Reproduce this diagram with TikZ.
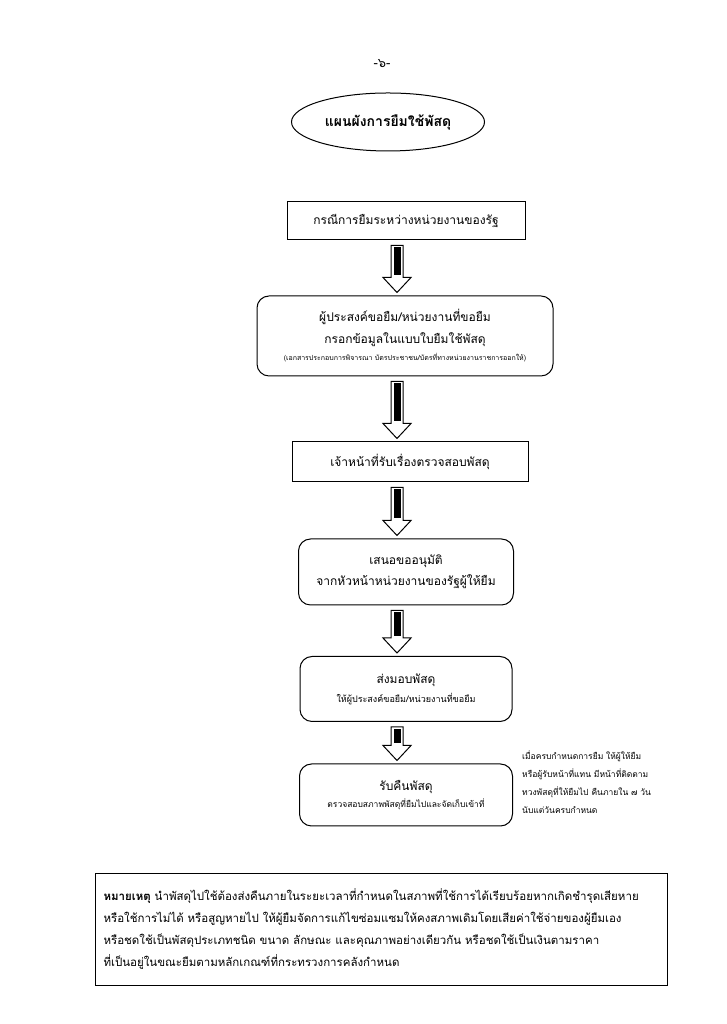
\documentclass[tikz,border=0pt]{standalone}
\usepackage{fontspec}
\setmainfont[Script=Thai]{Loma}
\usetikzlibrary{shapes.geometric,calc}
\AtBeginDocument{\lineskiplimit=-100pt}

\begin{document}
\begin{tikzpicture}[
  x=1pt, y=1pt,
  stepbox/.style={draw, line width=1pt, align=center, inner sep=0pt,
    font=\fontsize{12}{21}\selectfont},
  roundbox/.style={stepbox, rounded corners=12pt},
  arrowout/.style={draw, fill=white, line width=1pt, line join=miter}]

\useasboundingbox (0,0) rectangle (726,1024);
\fill[white] (0,0) rectangle (726,1024);

% the block arrows all sit on one column
\coordinate (col) at (397,0);
\newcommand{\flowarrow}[2]{%
  \path (#1.south -| col) ++(0,-5) coordinate (ftop)
        (#2.north -| col) ++(0,3) coordinate (ftip);
  \draw[arrowout] let \p1=(ftop), \p2=(ftip) in
    (\x1-6pt,\y1) -- (\x1+6pt,\y1) -- (\x1+6pt,\y2+15pt) -- (\x1+14pt,\y2+15pt)
    -- (\x1,\y2) -- (\x1-14pt,\y2+15pt) -- (\x1-6pt,\y2+15pt) -- cycle;
  \fill let \p1=(ftop), \p2=(ftip) in
    (\x1-3.5pt,\y1-2pt) rectangle (\x1+3.5pt,\y2+17pt);}

% ---- heading ------------------------------------------------------------
\node[font=\fontsize{13}{15}\selectfont] (pageno) at (382,960) {-๖-};
\node[ellipse, draw, line width=1pt, minimum width=193, minimum height=58,
  font=\fontsize{14}{16}\selectfont\bfseries] (title) at (388,902)
  {แผนผังการยืมใช้พัสดุ};

% ---- the flow -----------------------------------------------------------
\node[stepbox, minimum width=238, minimum height=38] (case) at (406,803)
  {กรณีการยืมระหว่างหน่วยงานของรัฐ};
\node[roundbox, minimum width=296, minimum height=80] (request) at (405,688)
  {ผู้ประสงค์ขอยืม/หน่วยงานที่ขอยืม\\[1pt]
   กรอกข้อมูลในแบบใบยืมใช้พัสดุ\\[-4pt]
   {\fontsize{7}{9}\selectfont (เอกสารประกอบการพิจารณา บัตรประชาชน/บัตรที่ทางหน่วยงานราชการออกให้)}};
\node[stepbox, minimum width=236, minimum height=40] (check) at (410,562)
  {เจ้าหน้าที่รับเรื่องตรวจสอบพัสดุ};
\node[roundbox, minimum width=215, minimum height=66] (approve) at (406,452)
  {เสนอขออนุมัติ\\ จากหัวหน้าหน่วยงานของรัฐผู้ให้ยืม};
\node[roundbox, minimum width=212, minimum height=65] (deliver) at (406,335)
  {ส่งมอบพัสดุ\\[-2pt]
   {\fontsize{9}{11}\selectfont ให้ผู้ประสงค์ขอยืม/หน่วยงานที่ขอยืม}};
\node[roundbox, minimum width=213, minimum height=62] (return) at (406,229)
  {รับคืนพัสดุ\\[-4pt]
   {\fontsize{8.5}{10.5}\selectfont ตรวจสอบสภาพพัสดุที่ยืมไปและจัดเก็บเข้าที่}};

\flowarrow{case}{request}
\flowarrow{request}{check}
\flowarrow{check}{approve}
\flowarrow{approve}{deliver}
\flowarrow{deliver}{return}

% ---- side remark on the return --------------------------------------------
\node[anchor=north west, align=left, inner sep=0pt,
  font=\fontsize{8.5}{17.7}\selectfont] (followup) at (522,273)
  {เมื่อครบกำหนดการยืม ให้ผู้ให้ยืม\\
   หรือผู้รับหน้าที่แทน มีหน้าที่ติดตาม\\
   ทวงพัสดุที่ให้ยืมไป คืนภายใน ๗ วัน\\
   นับแต่วันครบกำหนด};

% ---- note ---------------------------------------------------------------
\node[draw, line width=1pt, anchor=north west, align=left, text width=556,
  minimum height=112, inner xsep=8pt, inner ysep=3pt,
  font=\fontsize{11.5}{22}\selectfont] (remark) at (95,151)
  {\textbf{หมายเหตุ} นำพัสดุไปใช้ต้องส่งคืนภายในระยะเวลาที่กำหนดในสภาพที่ใช้การได้เรียบร้อยหากเกิดชำรุดเสียหาย\\
   หรือใช้การไม่ได้ หรือสูญหายไป ให้ผู้ยืมจัดการแก้ไขซ่อมแซมให้คงสภาพเดิมโดยเสียค่าใช้จ่ายของผู้ยืมเอง\\
   หรือชดใช้เป็นพัสดุประเภทชนิด ขนาด ลักษณะ และคุณภาพอย่างเดียวกัน หรือชดใช้เป็นเงินตามราคา\\
   ที่เป็นอยู่ในขณะยืมตามหลักเกณฑ์ที่กระทรวงการคลังกำหนด};

\end{tikzpicture}
\end{document}
